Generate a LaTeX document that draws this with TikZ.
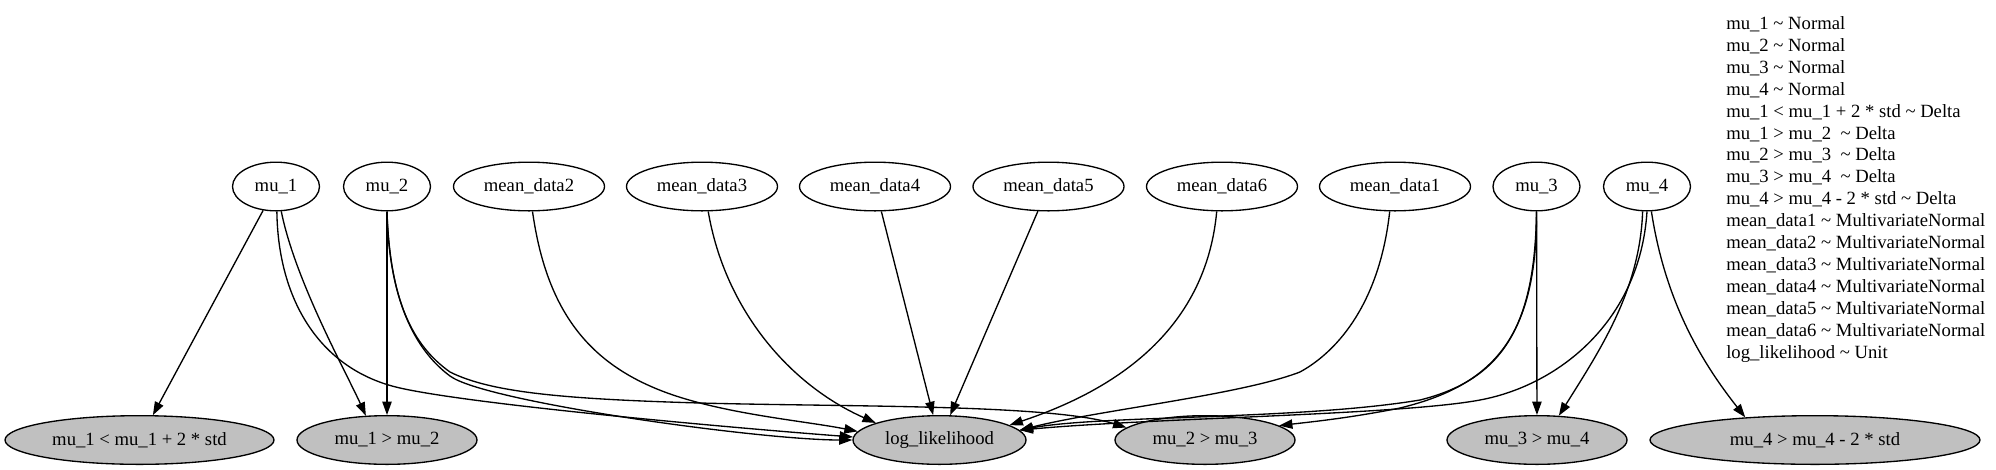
\documentclass[tikz,border=0pt]{standalone}
\usepackage{fontspec}
\setmainfont{Liberation Serif}
\usetikzlibrary{arrows.meta,shapes.geometric}
\definecolor{nodegray}{RGB}{192,192,192}
\newcommand{\tld}{\textasciitilde}
\begin{document}
\begin{tikzpicture}[x=0.75pt,y=-0.75pt,
  font=\fontsize{14}{16}\selectfont,
  var/.style={ellipse, draw, line width=1pt, inner sep=1pt, minimum height=36.5pt},
  smallvar/.style={var, minimum width=65.25pt},
  datavar/.style={var, minimum width=113.25pt},
  obs/.style={var, fill=nodegray},
  edge/.style={line width=1pt, -{Triangle[length=10pt,width=7pt]}},
  legendline/.style={anchor=base west, inner sep=0pt}]
\useasboundingbox (0,0) rectangle (1996,469);

% top row
\node[smallvar] (mu1) at (276,186.5) {mu\_1};
\node[smallvar] (mu2) at (387,186.5) {mu\_2};
\node[datavar] (md2) at (529,186.5) {mean\_data2};
\node[datavar] (md3) at (702,186.5) {mean\_data3};
\node[datavar] (md4) at (875,186.5) {mean\_data4};
\node[datavar] (md5) at (1048.5,186.5) {mean\_data5};
\node[datavar] (md6) at (1222,186.5) {mean\_data6};
\node[datavar] (md1) at (1395,186.5) {mean\_data1};
\node[smallvar] (mu3) at (1536.5,186.5) {mu\_3};
\node[smallvar] (mu4) at (1647,186.5) {mu\_4};

% bottom row
\node[obs, minimum width=201.75pt] (c1) at (139.5,440) {mu\_1 < mu\_1 + 2 * std};
\node[obs, minimum width=135pt] (c2) at (387,440) {mu\_1 > mu\_2};
\node[obs, minimum width=129.75pt] (ll) at (939.5,440) {log\_likelihood};
\node[obs, minimum width=135pt] (c3) at (1205,440) {mu\_2 > mu\_3};
\node[obs, minimum width=135pt] (c4) at (1537,440) {mu\_3 > mu\_4};
\node[obs, minimum width=247.5pt] (c5) at (1815,440) {mu\_4 > mu\_4 - 2 * std};

% edges
\draw[edge] (mu1) -- (c1);
\draw[edge] (mu1.282) .. controls (295,280) and (345,370) .. (c2.131);
\draw[edge] (mu1.272) .. controls (278,300) and (320,370) .. (400,388)
   .. controls (480,406) and (760,430) .. (ll.178);
\draw[edge] (mu2) -- (c2);
\draw[edge] (mu2.south) .. controls (389,300) and (415,350) .. (450,376)
   .. controls (485,402) and (760,440) .. (ll.180);
\draw[edge] (mu2.south) .. controls (390,300) and (412,345) .. (450,372)
   .. controls (490,392) and (560,399) .. (700,403)
   .. controls (850,407) and (1050,404) .. (c3.171);
\draw[edge] (md2.278) .. controls (545,300) and (580,355) .. (650,386)
   .. controls (710,413) and (800,420) .. (ll.174);
\draw[edge] (md3.284) .. controls (725,310) and (790,385) .. (ll.165);
\draw[edge] (md4) -- (ll);
\draw[edge] (md5) -- (ll);
\draw[edge] (md6.258) .. controls (1205,340) and (1100,395) .. (ll.12);
\draw[edge] (md1.258) .. controls (1380,300) and (1340,350) .. (1300,372)
   .. controls (1240,395) and (1100,410) .. (ll.7);
\draw[edge] (mu3) -- (c4);
\draw[edge] (mu3.south) .. controls (1535,330) and (1500,380) .. (1420,400)
   .. controls (1300,420) and (1100,415) .. (ll.7);
\draw[edge] (mu3.south) .. controls (1537,335) and (1495,385) .. (1400,408)
   .. controls (1350,418) and (1310,422) .. (c3.11);
\draw[edge] (mu4.260) .. controls (1640,290) and (1600,350) .. (c4.48);
\draw[edge] (mu4.south) .. controls (1640,320) and (1560,385) .. (1480,400)
   .. controls (1400,415) and (1150,418) .. (ll.7);
\draw[edge] (mu4.280) .. controls (1665,300) and (1700,360) .. (c5.162);

% legend
\node[legendline] (leg1) at (1726,29.3) {mu\_1 \tld\ Normal};
\node[legendline] (leg2) at (1726,51.2) {mu\_2 \tld\ Normal};
\node[legendline] (leg3) at (1726,73.2) {mu\_3 \tld\ Normal};
\node[legendline] (leg4) at (1726,95.1) {mu\_4 \tld\ Normal};
\node[legendline] (leg5) at (1726,117.0) {mu\_1 < mu\_1 + 2 * std \tld\ Delta};
\node[legendline] (leg6) at (1726,139.0) {mu\_1 > mu\_2\ \ \tld\ Delta};
\node[legendline] (leg7) at (1726,160.9) {mu\_2 > mu\_3\ \ \tld\ Delta};
\node[legendline] (leg8) at (1726,182.8) {mu\_3 > mu\_4\ \ \tld\ Delta};
\node[legendline] (leg9) at (1726,204.7) {mu\_4 > mu\_4 - 2 * std \tld\ Delta};
\node[legendline] (leg10) at (1726,226.7) {mean\_data1 \tld\ MultivariateNormal};
\node[legendline] (leg11) at (1726,248.6) {mean\_data2 \tld\ MultivariateNormal};
\node[legendline] (leg12) at (1726,270.5) {mean\_data3 \tld\ MultivariateNormal};
\node[legendline] (leg13) at (1726,292.5) {mean\_data4 \tld\ MultivariateNormal};
\node[legendline] (leg14) at (1726,314.4) {mean\_data5 \tld\ MultivariateNormal};
\node[legendline] (leg15) at (1726,336.3) {mean\_data6 \tld\ MultivariateNormal};
\node[legendline] (leg16) at (1726,358.3) {log\_likelihood \tld\ Unit};
\end{tikzpicture}
\end{document}
